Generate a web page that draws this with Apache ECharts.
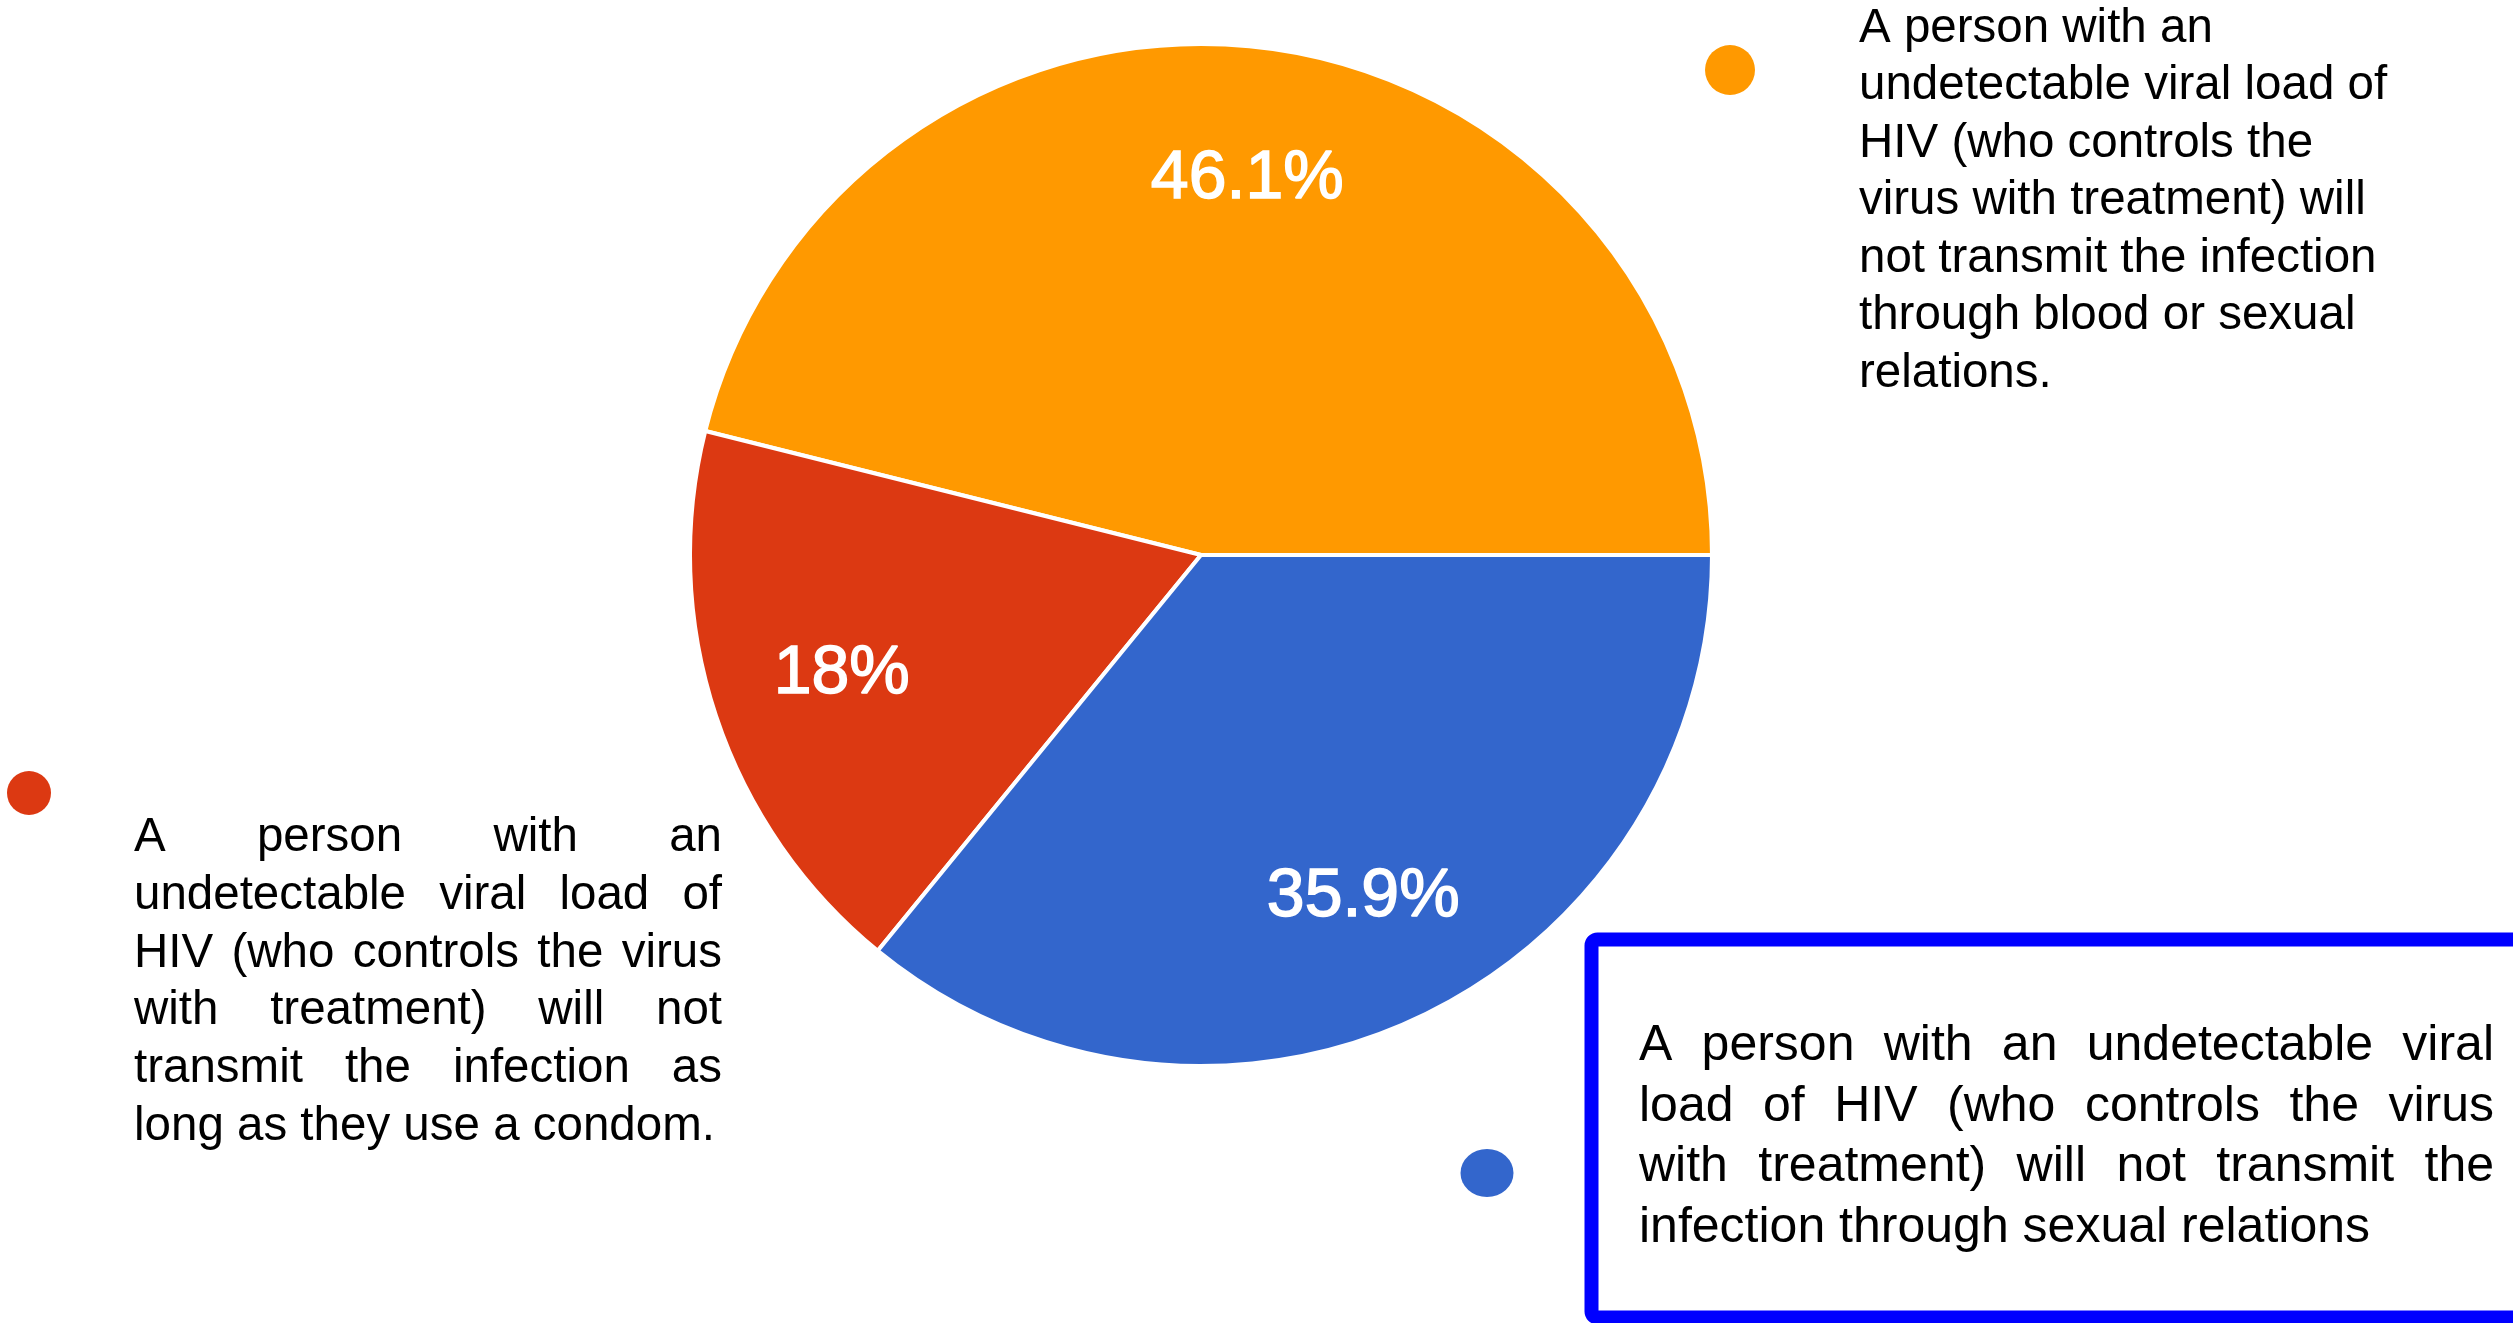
<!DOCTYPE html>
<html><head><meta charset="utf-8">
<script src="https://cdn.jsdelivr.net/npm/echarts@6/dist/echarts.min.js"></script>
<style>html,body{margin:0;padding:0;background:#fff}#c{width:2513px;height:1323px}</style>
</head><body><div id="c"></div>
<script>
// ---- data ----
const categories = [
  'A person with an undetectable viral load of HIV (who controls the virus with treatment) will not transmit the infection through blood or sexual relations.',
  'A person with an undetectable viral load of HIV (who controls the virus with treatment) will not transmit the infection as long as they use a condom.',
  'A person with an undetectable viral load of HIV (who controls the virus with treatment) will not transmit the infection through sexual relations'
];
const values = [46.1, 18, 35.9];
const colors = ['#FF9900', '#DC3912', '#3366CC'];
const legendLines = [
  ['A person with an', 'undetectable viral load of', 'HIV (who controls the', 'virus with treatment) will', 'not transmit the infection', 'through blood or sexual', 'relations.'],
  ['A person with an', 'undetectable viral load of', 'HIV (who controls the virus', 'with treatment) will not', 'transmit the infection as', 'long as they use a condom.'],
  ['A person with an undetectable viral', 'load of HIV (who controls the virus', 'with treatment) will not transmit the', 'infection through sexual relations']
];

// ---- layout ----
const FONT = '"Liberation Sans", Arial, Helvetica, sans-serif';
const blocks = [
  { x: 1859, base: 43.5, pitch: 57.5, size: 47.5, width: 0, justify: false, dot: [1730, 70, 25, 25] },
  { x: 134, base: 853, pitch: 57.7, size: 47.5, width: 588, justify: true, dot: [29, 793, 22, 22] },
  { x: 1639, base: 1062, pitch: 60.6, size: 50, width: 855, justify: true, dot: [1487, 1173, 26.5, 24] }
];

const mctx = document.createElement('canvas').getContext('2d');
function makeText(t, x, baseline, size) {
  return {
    type: 'text', silent: true,
    style: { text: t, x: x, y: baseline - 0.31 * size, fontSize: size, fontFamily: FONT,
             fill: '#000', textAlign: 'left', verticalAlign: 'middle' }
  };
}
const graphics = [];
blocks.forEach((b, k) => {
  mctx.font = b.size + 'px ' + FONT;
  const lines = legendLines[k];
  lines.forEach((line, i) => {
    const bl = b.base + i * b.pitch;
    if (!b.justify || i === lines.length - 1) {
      graphics.push(makeText(line, b.x, bl, b.size));
      return;
    }
    const words = line.split(' ');
    const ws = words.map(w => mctx.measureText(w).width);
    const total = ws.reduce((a, c) => a + c, 0);
    const gap = (b.width - total) / (words.length - 1);
    let cx = b.x;
    words.forEach((w, j) => { graphics.push(makeText(w, cx, bl, b.size)); cx += ws[j] + gap; });
  });
  const d = b.dot;
  graphics.push({ type: 'circle', silent: true, x: d[0], y: d[1], scaleX: d[2] / d[3],
    shape: { cx: 0, cy: 0, r: d[3] }, style: { fill: colors[k] } });
});
// framed box around the third legend entry
graphics.push({ type: 'rect', silent: true, z: 10,
  shape: { x: 1591.5, y: 939.5, width: 1100, height: 378, r: 6 },
  style: { fill: 'none', stroke: '#0000FF', lineWidth: 14 } });

const pieData = categories.map((n, i) => ({ name: n, value: values[i], itemStyle: { color: colors[i] } }));

const chart = echarts.init(document.getElementById('c'), null, { renderer: 'canvas' });
chart.setOption({
  backgroundColor: '#fff',
  animation: false,
  series: [
    {
      type: 'pie', center: [1201, 555], radius: [0, 511],
      startAngle: 0, clockwise: false, silent: true,
      label: { show: false }, labelLine: { show: false },
      itemStyle: { borderColor: '#fff', borderWidth: 4 },
      emphasis: { disabled: true },
      data: pieData
    },
    {
      type: 'pie', center: [1201, 555], radius: [240, 511],
      startAngle: 0, clockwise: false, silent: true, z: 5,
      itemStyle: { color: 'rgba(0,0,0,0)', borderWidth: 0 },
      label: { show: true, position: 'inside', formatter: '{c}%', color: '#fff',
               fontSize: 68, fontFamily: FONT, textBorderColor: '#fff', textBorderWidth: 1.5 },
      labelLine: { show: false },
      emphasis: { disabled: true },
      data: categories.map((n, i) => ({ name: n, value: values[i] }))
    }
  ],
  graphic: graphics
});
</script></body></html>
